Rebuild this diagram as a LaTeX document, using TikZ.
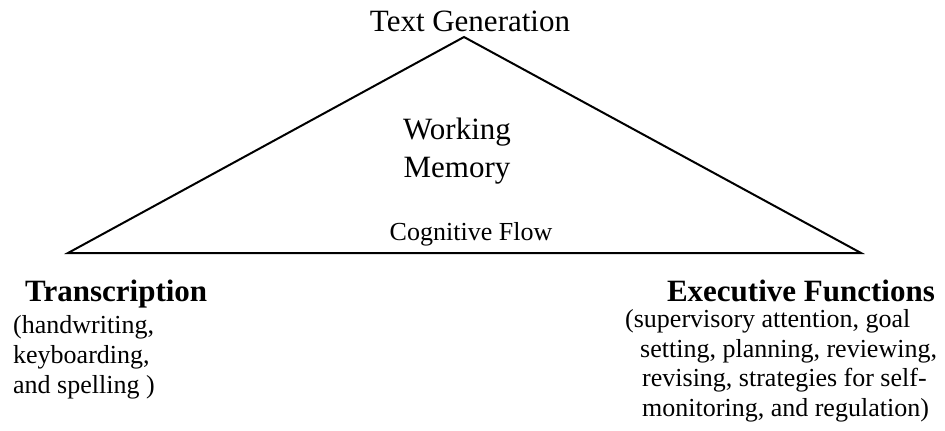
\documentclass[tikz,border=0pt]{standalone}
\usepackage{fontspec}
\setmainfont{Liberation Serif}
\begin{document}
\begin{tikzpicture}[x=1pt,y=-1pt,
  big/.style={inner sep=0pt,font=\fontsize{31}{36}\selectfont},
  bigb/.style={inner sep=0pt,font=\fontsize{31}{36}\selectfont\bfseries},
  small/.style={inner sep=0pt,font=\fontsize{26}{30}\selectfont},
  edge/.style={line width=2pt,line join=miter}]
\useasboundingbox (0,0) rectangle (945,431);
\coordinate (apex) at (464,37);
\coordinate (bl) at (68,253);
\coordinate (br) at (861,253);
\draw[edge] (apex) -- (br) -- (bl) -- cycle;
\node[big,anchor=base] (tg) at (470,31) {Text Generation};
\node[big,anchor=base] (wm1) at (457,139) {Working};
\node[big,anchor=base] (wm2) at (457,177) {Memory};
\node[small,anchor=base] (cf) at (471,240) {Cognitive Flow};
\node[bigb,anchor=base west] (tr) at (25,301) {Transcription};
\node[small,anchor=base west] (tr1) at (13,333) {(handwriting,};
\node[small,anchor=base west] (tr2) at (13,363) {keyboarding,};
\node[small,anchor=base west] (tr3) at (13,393) {and spelling )};
\node[bigb,anchor=base east] (ef) at (935,301) {Executive Functions};
\node[small,anchor=base west] (ef1) at (625,327) {(supervisory attention, goal};
\node[small,anchor=base west] (ef2) at (640,357) {setting, planning, reviewing,};
\node[small,anchor=base west] (ef3) at (642,386) {revising, strategies for self-};
\node[small,anchor=base west] (ef4) at (642,416) {monitoring, and regulation)};
\end{tikzpicture}
\end{document}
